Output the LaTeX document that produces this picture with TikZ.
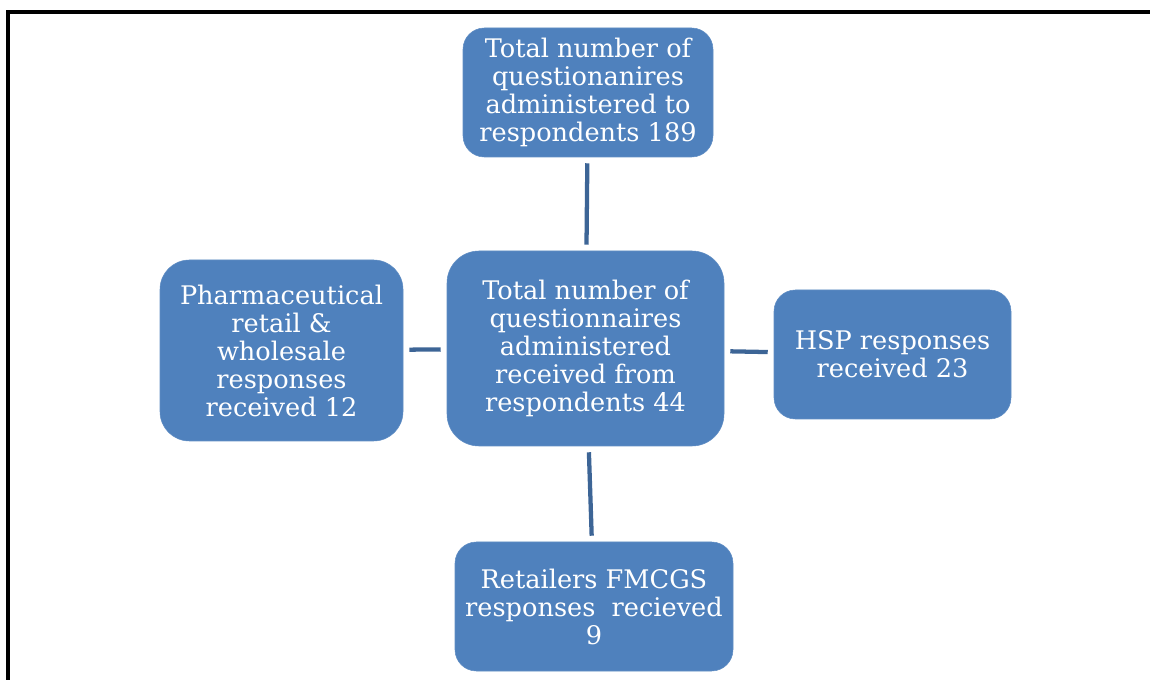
\documentclass[tikz,border=0pt]{standalone}
\usepackage{fontspec}
\setmainfont{DejaVu Serif}
\usetikzlibrary{arrows,positioning}
\definecolor{boxblue}{HTML}{4F81BD}
\definecolor{linkblue}{HTML}{3D6596}

\begin{document}
\begin{tikzpicture}[x=0.75pt,y=-0.75pt,
  every node/.style={fill=boxblue,draw=boxblue!90!white,text=white,align=center,inner sep=0pt,
    font=\fontsize{19.2}{21}\selectfont},
  link/.style={draw=linkblue,line width=3.2pt,shorten <=4.5pt,shorten >=4.5pt}]
  \useasboundingbox (0,0) rectangle (1150,680);
  \draw[line width=2.6pt] (8,680) -- (8,12) -- (1150,12);

  \node[minimum width=277*0.75pt,minimum height=195*0.75pt,rounded corners=24pt] (total) at (585.5,348.5)
    {Total number of\\questionnaires\\administered\\received from\\respondents 44};
  \node[minimum width=250*0.75pt,minimum height=129*0.75pt,rounded corners=16pt] (given) at (588,92.5)
    {Total number of\\questionanires\\administered to\\respondents 189};
  \node[minimum width=243*0.75pt,minimum height=181*0.75pt,rounded corners=22pt] (pharma) at (281.5,350.5)
    {Pharmaceutical\\retail \&\\wholesale\\responses\\received 12};
  \node[minimum width=237*0.75pt,minimum height=129*0.75pt,rounded corners=16pt] (hsp) at (892.5,354.5)
    {HSP responses\\received 23};
  \node[minimum width=278*0.75pt,minimum height=129*0.75pt,rounded corners=16pt] (fmcg) at (594,606.5)
    {Retailers FMCGS\\responses\ \ recieved\\9};

  \foreach \n in {given,pharma,hsp,fmcg}{\path[link] (total) -- (\n);}
\end{tikzpicture}
\end{document}
